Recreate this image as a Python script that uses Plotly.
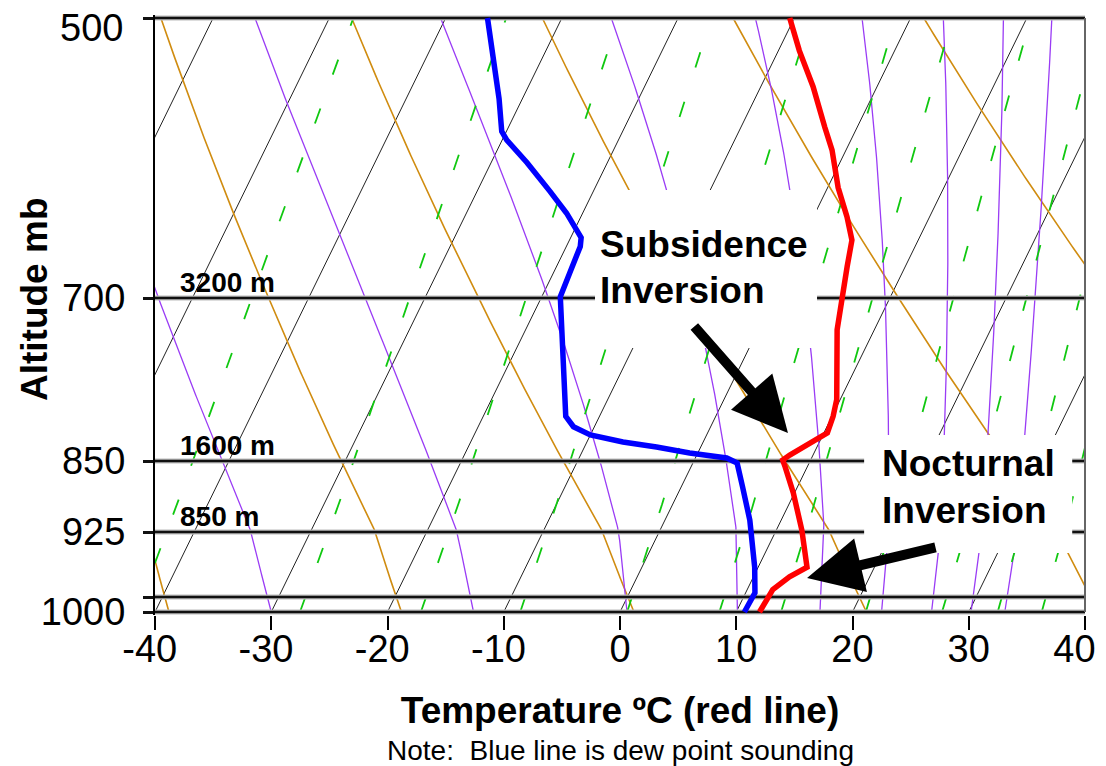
import numpy as np
import plotly.graph_objects as go

# ---------------- data ----------------
# Temperature sounding (red line): pressure (mb) and temperature (deg C)
temp_p = [1000, 978, 966, 957, 923, 883, 856, 849, 844, 834, 822, 806, 790,
          727, 696, 674, 653, 635, 613, 586, 570, 543, 520, 500]
temp_c = [12.0, 12.2, 13.1, 14.2, 12.2, 9.9, 8.1, 7.6, 8.0, 9.1, 10.3, 10.1, 9.7,
          6.8, 5.7, 5.0, 4.3, 2.9, 0.9, -1.2, -2.8, -5.5, -8.2, -10.4]

# Dew point sounding (blue line)
dew_p = [1000, 981, 957, 912, 877, 852, 847, 842, 836, 831, 824, 816, 806,
         745, 718, 699, 679, 658, 651, 632, 616, 595, 579, 573, 551, 524, 500]
dew_c = [10.7, 10.8, 9.7, 7.3, 5.3, 3.8, 2.7, -0.7, -3.8, -6.9, -10.0, -11.8, -12.9,
         -16.0, -17.4, -18.4, -18.6, -18.8, -19.1, -21.4, -23.7, -26.9, -29.6, -30.4,
         -32.0, -34.3, -36.4]

# Axis ticks / labels
x_ticks = [-40, -30, -20, -10, 0, 10, 20, 30, 40]
p_levels = [500, 700, 850, 925, 985, 1000]
p_labels = ["500", "700", "850", "925", "", "1000"]
height_label_p = [700, 850, 925]
height_labels = ["3200 m", "1600 m", "850 m"]

# Background reference families (values at 1000 mb)
isotherms = [-60, -50, -40, -30, -20, -10, 0, 10, 20, 30]          # deg C
dry_theta = [-38.8, -18.8, 1.2, 21.2, 41.2, 61.2]                   # deg C
moist_start = [-30, -12.6, 0.6, 10.1, 17.2, 22.5, 26.8, 30.2, 33.1]  # deg C
mix_ratio = [0.1, 0.4, 1, 2, 4, 7, 10, 16, 24, 32, 40]              # g/kg

# ---------------- diagram geometry ----------------
SKEW = 25.0
TOP = 594.0
anchor_p = [1000, 985, 925, 850, 700, 500]
anchor_h = [0, 15, 80, 151, 314, 594]


def hpos(p):
    return np.interp(-np.log(np.asarray(p, float)), -np.log(anchor_p), anchor_h)


def skx(t, p):
    return np.asarray(t, float) + SKEW * hpos(p) / TOP


pg = np.linspace(1000, 500, 201)
hg = hpos(pg)


def moist_adiabat(t0c):
    Rd, cp, Lv, eps = 287.04, 1005.7, 2.501e6, 0.622

    def rs(T, p):
        tc = T - 273.15
        es = 6.112 * np.exp(17.67 * tc / (tc + 243.5))
        return eps * es / (p - es)

    def f(T, p):
        r = rs(T, p)
        return (Rd * T + Lv * r) / (cp + Lv * Lv * r * eps / (Rd * T * T)) / p

    T = t0c + 273.15
    out = [T]
    for i in range(len(pg) - 1):
        p0, dp = pg[i], pg[i + 1] - pg[i]
        k1 = f(T, p0)
        k2 = f(T + 0.5 * dp * k1, p0 + 0.5 * dp)
        k3 = f(T + 0.5 * dp * k2, p0 + 0.5 * dp)
        k4 = f(T + dp * k3, p0 + dp)
        T = T + dp * (k1 + 2 * k2 + 2 * k3 + k4) / 6
        out.append(T)
    return np.array(out) - 273.15


fig = go.Figure()


def add_family(curves, color, width, dash=None):
    X, Y = [], []
    for tc in curves:
        X += list(skx(tc, pg)) + [None]
        Y += list(hg) + [None]
    fig.add_trace(go.Scatter(x=X, y=Y, mode="lines", hoverinfo="skip", showlegend=False,
                             line=dict(color=color, width=width, dash=dash)))


# isotherms
add_family([np.full_like(pg, t) for t in isotherms], "#222222", 1.0)
# dry adiabats
add_family([(th + 273.15) * (pg / 1000.0) ** 0.2857 - 273.15 for th in dry_theta], "#D08C10", 1.6)
# moist adiabats
add_family([moist_adiabat(t0) for t0 in moist_start], "#9A3CF5", 1.3)
# mixing-ratio lines
mix_curves = []
for w in mix_ratio:
    es = w * pg / (622.0 + w)
    ln = np.log(es / 6.112)
    mix_curves.append(243.5 * ln / (17.67 - ln))
add_family(mix_curves, "#10C810", 1.8, dash="16px,36px")

# pressure level lines
HX, HY = [], []
for p in p_levels:
    HX += [-40, 40, None]
    HY += [float(hpos(p)), float(hpos(p)), None]
fig.add_trace(go.Scatter(x=HX, y=HY, mode="lines", hoverinfo="skip", showlegend=False,
                         line=dict(color="#BBBBBB", width=5)))
fig.add_trace(go.Scatter(x=HX, y=HY, mode="lines", hoverinfo="skip", showlegend=False,
                         line=dict(color="#111111", width=2.5)))

# soundings
fig.add_trace(go.Scatter(x=skx(dew_c, dew_p), y=hpos(dew_p), mode="lines", showlegend=False,
                         name="Dew point", line=dict(color="#0000FF", width=5.5)))
fig.add_trace(go.Scatter(x=skx(temp_c, temp_p), y=hpos(temp_p), mode="lines", showlegend=False,
                         name="Temperature", line=dict(color="#FF0000", width=5.5)))

FONT = "Liberation Sans, Arial, sans-serif"

shapes = [
    dict(type="rect", xref="x", yref="y", x0=-2.15, x1=16.95, y0=264, y1=422,
         fillcolor="white", line=dict(width=0), layer="above"),
    dict(type="rect", xref="x", yref="y", x0=21.0, x1=38.9, y0=59, y1=177,
         fillcolor="white", line=dict(width=0), layer="above"),
    dict(type="line", xref="paper", yref="y", x0=1, x1=1, y0=0, y1=TOP,
         line=dict(color="#666666", width=2)),
]

annotations = []
for p, lab in zip(height_label_p, height_labels):
    annotations.append(dict(x=-38.0, y=float(hpos(p)) + 16, xref="x", yref="y", text=lab,
                            showarrow=False, xanchor="left", yanchor="middle",
                            font=dict(family=FONT, size=28, color="black", weight="bold")))
for txt, xx, yy in [("Subsidence", -1.9, 368), ("Inversion", -1.9, 322),
                    ("Nocturnal", 22.4, 149), ("Inversion", 22.4, 102)]:
    annotations.append(dict(x=xx, y=yy, xref="x", yref="y", text=txt, showarrow=False,
                            xanchor="left", yanchor="middle",
                            font=dict(family=FONT, size=37, color="black", weight="bold")))
# arrows
for tip, tail in [((14.45, 179), (6.28, 287)), ((16.09, 34), (27.27, 65))]:
    annotations.append(dict(x=tip[0], y=tip[1], ax=tail[0], ay=tail[1], xref="x", yref="y",
                            axref="x", ayref="y", text="", showarrow=True, arrowhead=2,
                            arrowsize=1.1, arrowwidth=10, arrowcolor="black", standoff=0))
# top pressure label (placed a little below its line, as in the original)
annotations.append(dict(x=0, y=float(hpos(500)), xref="paper", yref="y", text="500",
                        showarrow=False, xanchor="right", yanchor="middle", xshift=-30,
                        yshift=-10, font=dict(family=FONT, size=38, color="black")))
# y-axis title
annotations.append(dict(x=0, y=0.525, xref="paper", yref="paper", text="<b>Altitude mb</b>",
                        showarrow=False, xanchor="center", yanchor="middle", xshift=-121,
                        textangle=-90, font=dict(family=FONT, size=37, color="black")))
# note
annotations.append(dict(x=0.5, y=0, xref="paper", yref="paper", yshift=-135, xanchor="center",
                        yanchor="middle", showarrow=False,
                        text="Note:  Blue line is dew point sounding",
                        font=dict(family=FONT, size=28, color="black")))


def xlabel(v):
    if v < 0:
        return f"{v}\u00a0"          # centre the digits, minus sign hangs left
    if v == x_ticks[-1]:
        return f"{v}\u00a0\u00a0"    # keep the last label inside the page
    return f"{v}"


xt_text = [xlabel(v) for v in x_ticks]
yt_text = ["" if p == 500 else lab for p, lab in zip(p_levels, p_labels)]

# The page body has an 8px margin, so the figure is 8px smaller than the window
fig.update_layout(
    width=1098, height=758,
    margin=dict(l=147, r=21, t=7, b=151, autoexpand=False),
    paper_bgcolor="white", plot_bgcolor="white",
    font=dict(family=FONT, color="black"),
    shapes=shapes, annotations=annotations,
    xaxis=dict(range=[-40, 40], tickvals=x_ticks, ticktext=xt_text, ticks="outside",
               ticklen=14, tickwidth=1.5, tickcolor="black", showgrid=False, zeroline=False,
               showline=False, tickfont=dict(size=38, family=FONT), ticklabelstandoff=-14,
               ticklabeloverflow="allow", automargin=False,
               title=dict(text="Temperature ºC (red line)", standoff=28,
                          font=dict(size=37, family=FONT, weight="bold"))),
    yaxis=dict(range=[-3, 597], tickvals=[float(v) for v in hpos(p_levels)], ticktext=yt_text,
               ticks="outside", ticklen=10, tickwidth=2.5, tickcolor="#111111",
               showgrid=False, zeroline=False, showline=True, linecolor="black", linewidth=2,
               tickfont=dict(size=38, family=FONT), ticklabelstandoff=10, automargin=False),
)

fig.write_html("out.html")
